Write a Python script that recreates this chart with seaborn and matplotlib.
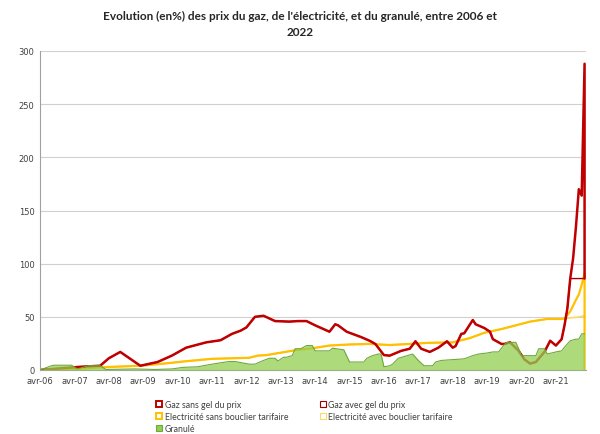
import pandas as pd
import numpy as np
import matplotlib.pyplot as plt
import seaborn as sns
from matplotlib.lines import Line2D

# données (index = mois depuis avril 2006)
gaz_mois = [0, 7, 14, 21, 24, 28, 35, 41, 46, 51, 58, 63, 67, 70, 72, 75, 78, 82, 87, 90,
            93, 96, 101, 103, 104, 107, 109, 112, 115, 117, 120, 122, 126, 129, 131, 133, 136,
            139, 142, 144, 145, 147, 148, 151, 152, 155, 157, 158, 161, 162, 164, 167, 169,
            171, 173, 176, 178, 180, 182, 183, 184, 185]
gaz_val = [0, 1.5, 3, 4, 11, 17, 4, 7.5, 13.5, 21, 26, 28, 34, 37, 40, 50, 51, 46, 45.5, 46,
           46, 42, 36, 43, 42, 36, 34, 31, 27.5, 24.5, 14, 13.5, 18, 20, 27, 20, 17,
           21, 27, 21, 22.5, 34, 34.5, 47, 43, 39.5, 36, 29, 24.5, 24.5, 26, 18, 10,
           6, 7.5, 17, 27.5, 23, 29, 42, 58, 86]
gaz_sans_fin_mois = [186, 187, 188, 189, 190, 190]
gaz_sans_fin_val = [105, 135, 170, 164, 288, 86]
gaz_avec_fin_mois = [186, 187, 188, 189, 190]
gaz_avec_fin_val = [86, 86, 86, 86, 86]

elec_mois = [0, 14, 21, 35, 45, 50, 60, 73, 76, 79, 90, 94, 101, 108, 115, 122, 129, 135,
             144, 150, 155, 161, 166, 171, 177, 182, 183]
elec_val = [0, 1, 2.5, 4, 6.5, 8, 10.5, 11.5, 13.5, 14, 19, 20, 23, 24, 24.5, 23.5, 24.5, 25.5,
            26, 30, 35, 38.5, 42, 45.5, 48, 48, 48.5]
elec_sans_fin_mois = [185, 187, 188, 189, 190, 190]
elec_sans_fin_val = [55, 66, 71, 80, 91, 0]
elec_avec_fin_mois = [185, 187, 190]
elec_avec_fin_val = [49, 49.5, 51]

gran_mois = [0, 4, 5, 11, 13, 17, 21, 23, 33, 40, 46, 50, 55, 60, 66, 68, 73, 75, 78, 80, 82,
             83, 85, 86, 88, 89, 91, 93, 95, 96, 101, 102, 106, 108, 113, 114, 116, 118, 119,
             120, 122, 123, 125, 130, 132, 134, 137, 138, 140, 148, 151, 153, 156, 158, 160,
             162, 163, 166, 167, 168, 173, 174, 176, 177, 180, 182, 183, 185, 187, 188, 189, 190]
gran_val = [0, 4, 4.5, 4.5, 1, 4, 4, 0.5, 1, 0.5, 1, 2.5, 3, 5.5, 8, 8, 5.5, 5.5, 9, 11, 11,
            8.5, 12, 12, 13.5, 20, 20, 23, 23, 18, 18, 20.5, 19, 7.5, 7.5, 11, 13.5, 15, 15,
            3, 4, 5.5, 11, 15, 9, 4, 4, 7.5, 9, 10.5, 13.5, 15, 16, 17, 17,
            24, 26, 26, 20, 13.5, 13.5, 20, 20, 15, 17, 18, 21.5, 27.5, 29, 29, 34, 34]

tick_mois = list(range(0, 181, 12))
tick_labels = ["avr-%02d" % a for a in range(6, 22)]

gaz_sans = pd.DataFrame({"mois": gaz_mois + gaz_sans_fin_mois, "val": gaz_val + gaz_sans_fin_val})
gaz_avec = pd.DataFrame({"mois": gaz_mois + gaz_avec_fin_mois, "val": gaz_val + gaz_avec_fin_val})
elec_sans = pd.DataFrame({"mois": elec_mois + elec_sans_fin_mois, "val": elec_val + elec_sans_fin_val})
elec_avec = pd.DataFrame({"mois": elec_mois + elec_avec_fin_mois, "val": elec_val + elec_avec_fin_val})
gran = pd.DataFrame({"mois": gran_mois, "val": gran_val})

rouge = "#C00000"
rouge_fonce = "#9E0000"
jaune = "#FFC000"
jaune_clair = "#FFD966"
vert = "#92D050"
vert_bord = "#6FA83A"

sns.set_style("white")
plt.rcParams["font.family"] = ["DejaVu Sans"]

fig = plt.figure(figsize=(6, 4.35), dpi=100)
ax = fig.add_axes([40 / 600, 1 - 371 / 435, 546 / 600, 319 / 435])

kw = dict(x="mois", y="val", estimator=None, sort=False, ax=ax, legend=False)
sns.lineplot(data=elec_avec, color=jaune_clair, linewidth=1.2, **kw)
sns.lineplot(data=elec_sans, color=jaune, linewidth=1.6, **kw)
sns.lineplot(data=gaz_avec, color=rouge_fonce, linewidth=1.0, **kw)
sns.lineplot(data=gaz_sans, color=rouge, linewidth=1.8, **kw)
ax.fill_between(gran["mois"], 0, gran["val"], color=vert, alpha=0.75, linewidth=0, zorder=3)
ax.plot(gran["mois"], gran["val"], color=vert_bord, linewidth=0.8, zorder=3)

ax.set_xlim(0, 190.5)
ax.set_ylim(0, 300)
ax.set_yticks(range(0, 301, 50))
ax.set_xticks(tick_mois)
ax.set_xticklabels(tick_labels)
ax.tick_params(axis="both", labelsize=6, colors="#404040", length=0, pad=4)
ax.grid(axis="y", color="#D0D0D0", linewidth=0.8)
ax.set_axisbelow(True)
ax.set_xlabel("")
ax.set_ylabel("")
for s in ["top", "right"]:
    ax.spines[s].set_visible(False)
for s in ["left", "bottom"]:
    ax.spines[s].set_color("#A0A0A0")
    ax.spines[s].set_linewidth(0.8)

fig.text(0.5, 1 - 24.5 / 435, "Evolution (en%) des prix du gaz, de l'électricité, et du granulé, entre 2006 et\n2022",
         ha="center", va="center", fontsize=8.5, fontweight="bold", family="Lato", linespacing=1.6)

handles = [
    Line2D([], [], marker="s", linestyle="none", markersize=5, markerfacecolor="white", markeredgecolor=rouge, markeredgewidth=1.4),
    Line2D([], [], marker="s", linestyle="none", markersize=5, markerfacecolor="white", markeredgecolor=jaune, markeredgewidth=1.4),
    Line2D([], [], marker="s", linestyle="none", markersize=5, markerfacecolor=vert, markeredgecolor=vert_bord, markeredgewidth=0.8),
    Line2D([], [], marker="s", linestyle="none", markersize=5, markerfacecolor="white", markeredgecolor=rouge_fonce, markeredgewidth=0.8),
    Line2D([], [], marker="s", linestyle="none", markersize=5, markerfacecolor="white", markeredgecolor=jaune_clair, markeredgewidth=0.8),
]
labels = ["Gaz sans gel du prix", "Electricité sans bouclier tarifaire", "Granulé",
          "Gaz avec gel du prix", "Electricité avec bouclier tarifaire"]
fig.legend(handles, labels, ncol=2, loc="upper left", bbox_to_anchor=(148 / 600, 1 - 393 / 435),
           frameon=False, handlelength=0.8, handletextpad=0.2, columnspacing=3.6,
           labelspacing=0.35, labelcolor="#404040", prop={"family": "Lato", "size": 6.3})

fig.savefig("out.png", dpi=100)
